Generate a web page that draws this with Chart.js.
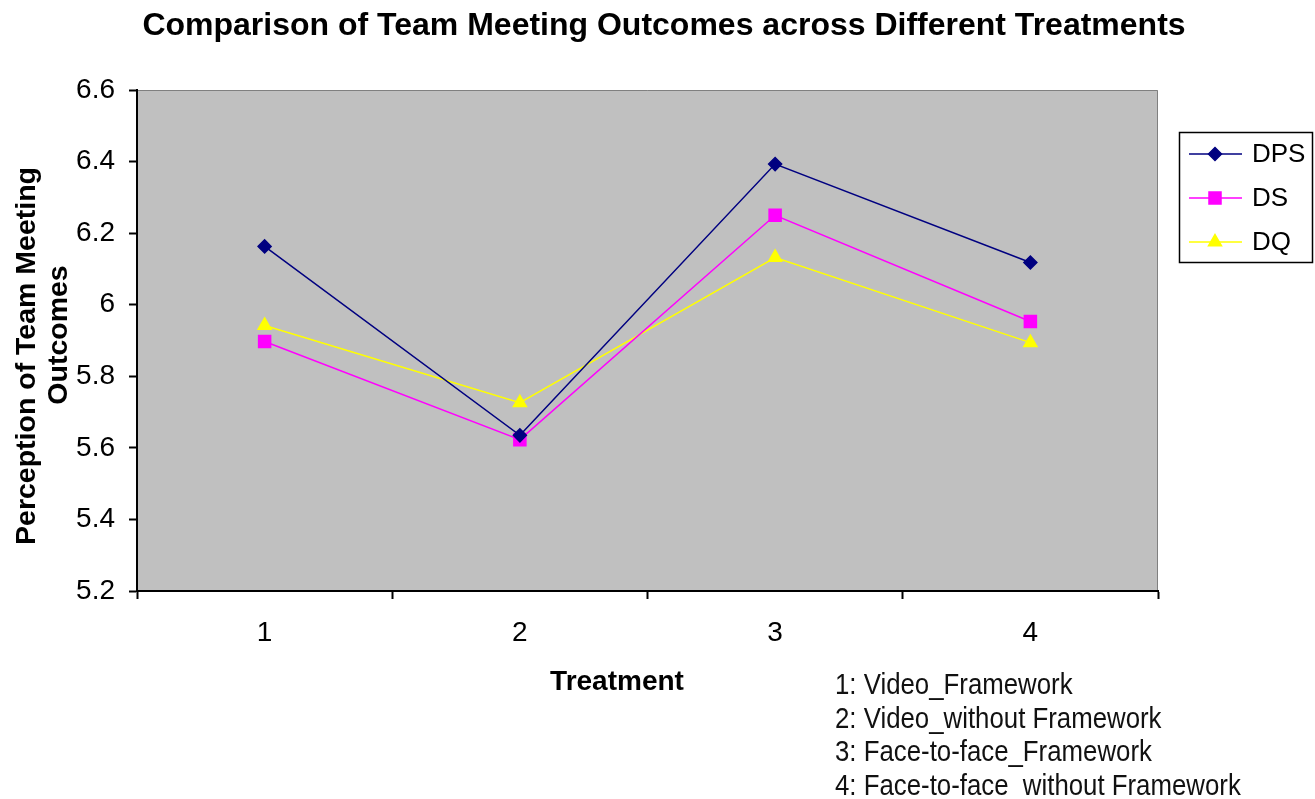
<!DOCTYPE html>
<html>
<head>
<meta charset="utf-8">
<title>Team Meeting Outcomes</title>
<script src="https://cdn.jsdelivr.net/npm/chart.js@4/dist/chart.umd.min.js"></script>
<style>
    html, body { margin: 0; padding: 0; background: #fff; }
    canvas { display: block; }
</style>
</head>
<body>
<canvas id="chart" width="1315" height="799"></canvas>
<script>
// data
const treatments = ["1", "2", "3", "4"];
const dpsValues = [6.163, 5.635, 6.393, 6.118];
const dsValues = [5.897, 5.623, 6.250, 5.953];
const dqValues = [5.942, 5.726, 6.132, 5.894];
const seriesNames = ["DPS", "DS", "DQ"];
const treatmentNotes = [
    "1: Video_Framework",
    "2: Video_without Framework",
    "3: Face-to-face_Framework",
    "4: Face-to-face_without Framework"
];

const FONT = "'Liberation Sans', Arial, sans-serif";

// grey plot area like the old Excel chart
const plotBackground = {
    id: "plotBackground",
    beforeDraw(chart) {
        const { ctx, chartArea: a } = chart;
        ctx.save();
        ctx.fillStyle = "#c0c0c0";
        ctx.fillRect(a.left, a.top, a.right - a.left, a.bottom - a.top);
        ctx.strokeStyle = "#808080";
        ctx.lineWidth = 1;
        ctx.beginPath();
        ctx.moveTo(a.left, a.top + 0.5);
        ctx.lineTo(a.right - 0.5, a.top + 0.5);
        ctx.lineTo(a.right - 0.5, a.bottom);
        ctx.stroke();
        ctx.restore();
    }
};

// title, axis titles, legend box and notes
const extraText = {
    id: "extraText",
    afterDraw(chart) {
        const ctx = chart.ctx;
        ctx.save();
        ctx.fillStyle = "#000";
        ctx.textBaseline = "alphabetic";

        ctx.font = "bold 32px " + FONT;
        ctx.textAlign = "center";
        ctx.fillText("Comparison of Team Meeting Outcomes across Different Treatments", 664, 35);

        // y axis title, two lines
        ctx.font = "bold 28.5px " + FONT;
        ctx.save();
        ctx.translate(35, 356);
        ctx.rotate(-Math.PI / 2);
        ctx.fillText("Perception of Team Meeting", 0, 0);
        ctx.restore();
        ctx.save();
        ctx.translate(67, 335);
        ctx.rotate(-Math.PI / 2);
        ctx.fillText("Outcomes", 0, 0);
        ctx.restore();

        ctx.font = "bold 28px " + FONT;
        ctx.fillText("Treatment", 617, 690);

        // notes under the axis, squeezed like a narrow font
        ctx.font = "30px " + FONT;
        ctx.textAlign = "left";
        ctx.fillStyle = "#111";
        treatmentNotes.forEach((t, i) => {
            ctx.save();
            ctx.translate(835, 694 + i * 33.7);
            ctx.scale(0.86, 1);
            ctx.fillText(t, 0, 0);
            ctx.restore();
        });

        // legend
        ctx.strokeStyle = "#000";
        ctx.lineWidth = 1.5;
        ctx.strokeRect(1179.5, 132.5, 133, 130);
        ctx.font = "26px " + FONT;
        ctx.textBaseline = "middle";
        chart.data.datasets.forEach((ds, i) => {
            const y = 154 + i * 44;
            ctx.strokeStyle = ds.borderColor;
            ctx.lineWidth = ds.borderWidth;
            ctx.beginPath();
            ctx.moveTo(1189, y);
            ctx.lineTo(1242, y);
            ctx.stroke();
            ctx.fillStyle = ds.pointBackgroundColor;
            Chart.helpers.drawPoint(ctx, {
                pointStyle: ds.pointStyle,
                radius: ds.pointRadius,
                rotation: 0,
                borderWidth: 1
            }, 1215, y);
            ctx.fillStyle = "#000";
            ctx.fillText(ds.label, 1252, y + 1);
        });
        ctx.restore();
    }
};

function makeSeries(label, values, color, style, radius) {
    return {
        label: label,
        data: values,
        borderColor: color,
        backgroundColor: color,
        pointBackgroundColor: color,
        pointBorderColor: color,
        pointStyle: style,
        pointRadius: radius,
        pointHoverRadius: radius,
        borderWidth: 1.5,
        tension: 0,
        fill: false
    };
}

new Chart(document.getElementById("chart"), {
    type: "line",
    data: {
        labels: treatments,
        datasets: [
            makeSeries(seriesNames[0], dpsValues, "#000080", "rectRot", 6.5),
            makeSeries(seriesNames[1], dsValues, "#ff00ff", "rect", 8.5),
            makeSeries(seriesNames[2], dqValues, "#ffff00", "triangle", 7.5)
        ]
    },
    options: {
        responsive: false,
        animation: false,
        events: [],
        layout: { padding: { top: 90, right: 157, left: 0, bottom: 0 } },
        plugins: {
            legend: { display: false },
            title: { display: false },
            tooltip: { enabled: false }
        },
        scales: {
            x: {
                offset: true,
                grid: {
                    offset: true,
                    drawOnChartArea: false,
                    tickLength: 8,
                    tickColor: "#000",
                    tickWidth: 2
                },
                border: { color: "#000", width: 2 },
                ticks: {
                    color: "#000",
                    font: { family: FONT, size: 28 },
                    padding: 17,
                    maxRotation: 0
                },
                afterFit(scale) { scale.height = 208; }
            },
            y: {
                min: 5.2,
                max: 6.6,
                grid: {
                    drawOnChartArea: false,
                    tickLength: 8,
                    tickColor: "#000",
                    tickWidth: 2
                },
                border: { color: "#000", width: 2 },
                ticks: {
                    stepSize: 0.2,
                    color: "#000",
                    font: { family: FONT, size: 28 },
                    padding: 14,
                    callback: v => String(Number(v.toFixed(1)))
                },
                afterFit(scale) { scale.width = 137; }
            }
        }
    },
    plugins: [plotBackground, extraText]
});
</script>
</body>
</html>
